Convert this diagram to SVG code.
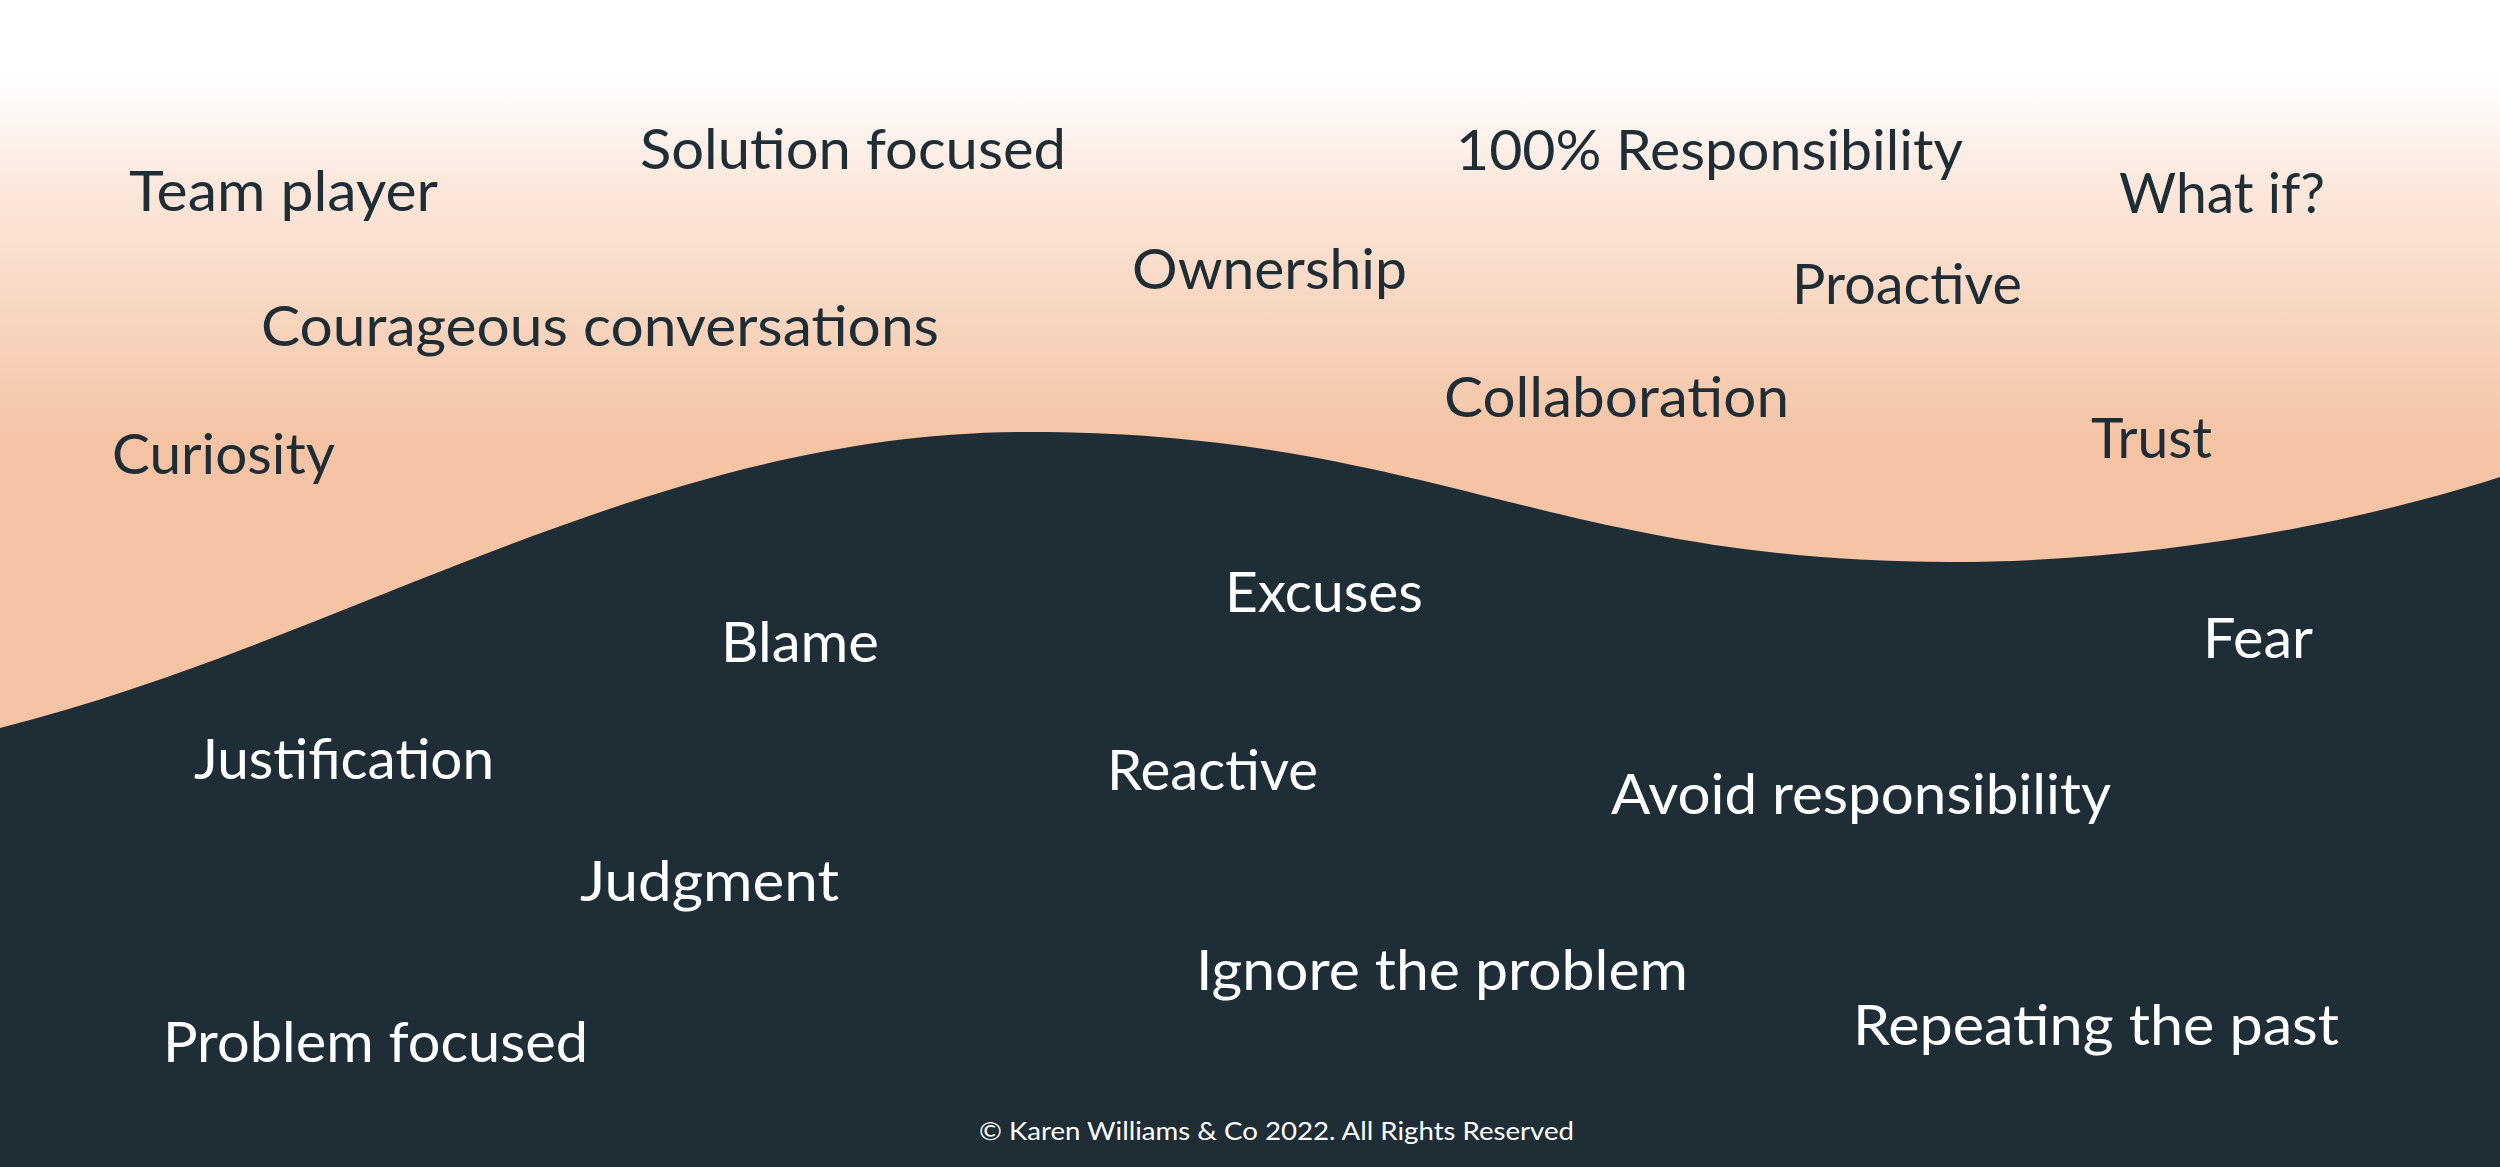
<svg xmlns="http://www.w3.org/2000/svg" width="2500" height="1167" viewBox="0 0 2500 1167">
  <defs>
    <linearGradient id="sky" gradientUnits="userSpaceOnUse" x1="0" y1="75" x2="0" y2="440">
      <stop offset="0" stop-color="#FFFFFF"/>
      <stop offset="0.3" stop-color="#FBE8DC"/>
      <stop offset="1" stop-color="#F4C4A4"/>
    </linearGradient>
    <style>
      text { font-family: Lato, "Noto Sans", "Liberation Sans", sans-serif; font-size: 57px; }
      .up { fill: #1F2E36; }
      .down { fill: #FFFFFF; }
      .copy { fill: #FFFFFF; font-size: 25px; }
    </style>
  </defs>
  <rect id="background" x="0" y="0" width="2500" height="1167" fill="url(#sky)"/>
  <path id="wave" fill="#1F2E36" d="M0,728 C350,640 650,432 1028,432 C1428,432 1551,562 1951,562 C2150,562 2350,525 2500,477 L2500,1167 L0,1167 Z"/>
  <g id="positive">
    <text id="t-team" class="up" x="129" y="211" textLength="309" lengthAdjust="spacingAndGlyphs">Team player</text>
    <text id="t-solution" class="up" x="640" y="169" textLength="426" lengthAdjust="spacingAndGlyphs">Solution focused</text>
    <text id="t-courageous" class="up" x="261" y="346" textLength="678" lengthAdjust="spacingAndGlyphs">Courageous conversations</text>
    <text id="t-curiosity" class="up" x="112" y="474" textLength="223" lengthAdjust="spacingAndGlyphs">Curiosity</text>
    <text id="t-ownership" class="up" x="1132" y="289" textLength="275" lengthAdjust="spacingAndGlyphs">Ownership</text>
    <text id="t-responsibility" class="up" x="1456" y="170" textLength="507" lengthAdjust="spacingAndGlyphs">100% Responsibility</text>
    <text id="t-whatif" class="up" x="2119" y="213" textLength="206" lengthAdjust="spacingAndGlyphs">What if?</text>
    <text id="t-proactive" class="up" x="1792" y="304" textLength="230" lengthAdjust="spacingAndGlyphs">Proactive</text>
    <text id="t-collaboration" class="up" x="1444" y="417" textLength="345" lengthAdjust="spacingAndGlyphs">Collaboration</text>
    <text id="t-trust" class="up" x="2091" y="458" textLength="121" lengthAdjust="spacingAndGlyphs">Trust</text>
  </g>
  <g id="negative">
    <text id="t-excuses" class="down" x="1225" y="612" textLength="198" lengthAdjust="spacingAndGlyphs">Excuses</text>
    <text id="t-blame" class="down" x="721" y="662" textLength="158" lengthAdjust="spacingAndGlyphs">Blame</text>
    <text id="t-fear" class="down" x="2203" y="658" textLength="110" lengthAdjust="spacingAndGlyphs">Fear</text>
    <text id="t-justification" class="down" x="194" y="779" textLength="300" lengthAdjust="spacingAndGlyphs">Justification</text>
    <text id="t-reactive" class="down" x="1107" y="790" textLength="211" lengthAdjust="spacingAndGlyphs">Reactive</text>
    <text id="t-avoid" class="down" x="1611" y="814" textLength="500" lengthAdjust="spacingAndGlyphs">Avoid responsibility</text>
    <text id="t-judgment" class="down" x="580" y="901" textLength="259" lengthAdjust="spacingAndGlyphs">Judgment</text>
    <text id="t-ignore" class="down" x="1196" y="990" textLength="492" lengthAdjust="spacingAndGlyphs">Ignore the problem</text>
    <text id="t-problem" class="down" x="163" y="1062" textLength="425" lengthAdjust="spacingAndGlyphs">Problem focused</text>
    <text id="t-repeating" class="down" x="1853" y="1045" textLength="486" lengthAdjust="spacingAndGlyphs">Repeating the past</text>
  </g>
  <text id="copyright" class="copy" x="979" y="1140" textLength="595" lengthAdjust="spacingAndGlyphs">© Karen Williams &amp; Co 2022. All Rights Reserved</text>
</svg>
